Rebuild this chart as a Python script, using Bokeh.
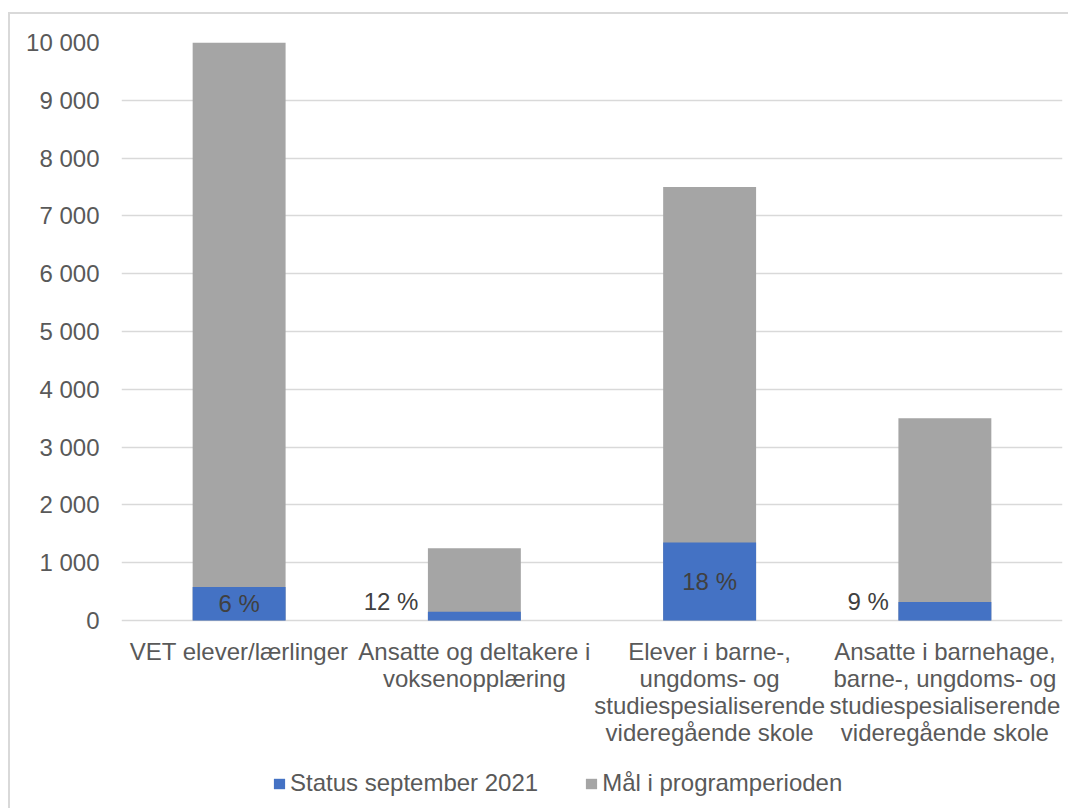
from bokeh.plotting import figure
from bokeh.models import (ColumnDataSource, FactorRange, FixedTicker, LabelSet,
                          Legend, LegendItem, Range1d)
from bokeh.core.properties import value
from bokeh.embed import file_html
from bokeh.resources import INLINE

categories = ["VET elever/lærlinger",
              "Ansatte og deltakere i\nvoksenopplæring",
              "Elever i barne-,\nungdoms- og\nstudiespesialiserende\nvideregående skole",
              "Ansatte i barnehage,\nbarne-, ungdoms- og\nstudiespesialiserende\nvideregående skole"]
keys = ["c1", "c2", "c3", "c4"]
target = [10000, 1250, 7500, 3500]
status = [580, 150, 1350, 320]
label_inside = [True, False, True, False]
y_ticks = [0, 1000, 2000, 3000, 4000, 5000, 6000, 7000, 8000, 9000, 10000]
y_tick_labels = ["0", "1 000", "2 000", "3 000", "4 000", "5 000", "6 000",
                 "7 000", "8 000", "9 000", "10 000"]
series_names = ["Status september 2021", "Mål i programperioden"]

BLUE = "#4472c4"
GREY = "#a5a5a5"
TXT = "#595959"
DARK = "#404040"
FONT = "Liberation Sans"
FS = "24px"
LINE_PITCH = 27

# frame extends below zero so the category texts and legend lie inside it
PX_PER_10K = 578.0
CANVAS_H = 796
TOP = 28
frame_h = CANVAS_H - TOP
y_max = 10000
y_min = y_max - frame_h / PX_PER_10K * 10000

p = figure(x_range=FactorRange(*keys, range_padding=0), y_range=Range1d(y_min, y_max),
           width=1060, height=CANVAS_H, output_backend="svg", toolbar_location=None,
           min_border_left=111, min_border_right=8, min_border_top=TOP,
           min_border_bottom=0)
p.styles = {"border-left": "2px solid #d9d9d9", "border-top": "2px solid #d9d9d9",
            "margin-top": "12px", "margin-left": "8px"}
p.outline_line_color = None

src = ColumnDataSource(dict(x=keys, target=target, status=status,
                            half=[s / 2 for s in status],
                            zero=[0] * len(keys),
                            pct=[f"{round(s / t * 100)} %" for s, t in zip(status, target)]))

r_goal = p.vbar(x="x", top="target", bottom=0, width=0.395, source=src,
                fill_color=GREY, line_color=None)
r_stat = p.vbar(x="x", top="status", bottom=0, width=0.395, source=src,
                fill_color=BLUE, line_color=None)

ins = [i for i, f in enumerate(label_inside) if f]
outs = [i for i, f in enumerate(label_inside) if not f]
src_in = ColumnDataSource({k: [v[i] for i in ins] for k, v in src.data.items()})
src_out = ColumnDataSource({k: [v[i] for i in outs] for k, v in src.data.items()})
p.add_layout(LabelSet(x="x", y="half", text="pct", source=src_in, text_align="center",
                      text_baseline="middle", text_font=value(FONT), text_font_size=FS,
                      text_color=DARK))
p.add_layout(LabelSet(x="x", y="zero", text="pct", source=src_out, text_align="right",
                      text_baseline="middle", x_offset=-56, y_offset=19,
                      text_font=value(FONT), text_font_size=FS, text_color=DARK))

# category labels, one centred label per line
lx, ly, lt, loff = [], [], [], []
for k, c in zip(keys, categories):
    for i, line in enumerate(c.split("\n")):
        lx.append(k)
        ly.append(0)
        lt.append(line)
        loff.append(-17 - i * LINE_PITCH)
src_cat = ColumnDataSource(dict(x=lx, y=ly, text=lt, off=loff))
p.add_layout(LabelSet(x="x", y="y", text="text", y_offset="off", source=src_cat,
                      text_align="center", text_baseline="top", text_font=value(FONT),
                      text_font_size=FS, text_color=TXT))

p.xaxis.visible = False
p.xgrid.grid_line_color = None
p.ygrid.grid_line_color = "#d9d9d9"
p.ygrid.grid_line_width = 1.5
p.yaxis.ticker = FixedTicker(ticks=y_ticks)
p.yaxis.major_label_overrides = {t: l for t, l in zip(y_ticks, y_tick_labels)}
p.yaxis.axis_line_color = None
p.yaxis.major_tick_line_color = None
p.yaxis.minor_tick_line_color = None
p.yaxis.major_label_standoff = 16
p.yaxis.major_label_text_font = FONT
p.yaxis.major_label_text_font_size = FS
p.yaxis.major_label_text_color = TXT

legend = Legend(items=[LegendItem(label=series_names[0], renderers=[r_stat]),
                       LegendItem(label=series_names[1], renderers=[r_goal])],
                orientation="horizontal", location=(151, 13),
                label_text_font=FONT, label_text_font_size=FS, label_text_color=TXT,
                glyph_width=14, glyph_height=13, label_standoff=4, spacing=46,
                padding=0, margin=0, border_line_color=None, background_fill_alpha=0)
p.add_layout(legend, "center")

open("out.html", "w").write(file_html(p, INLINE))
